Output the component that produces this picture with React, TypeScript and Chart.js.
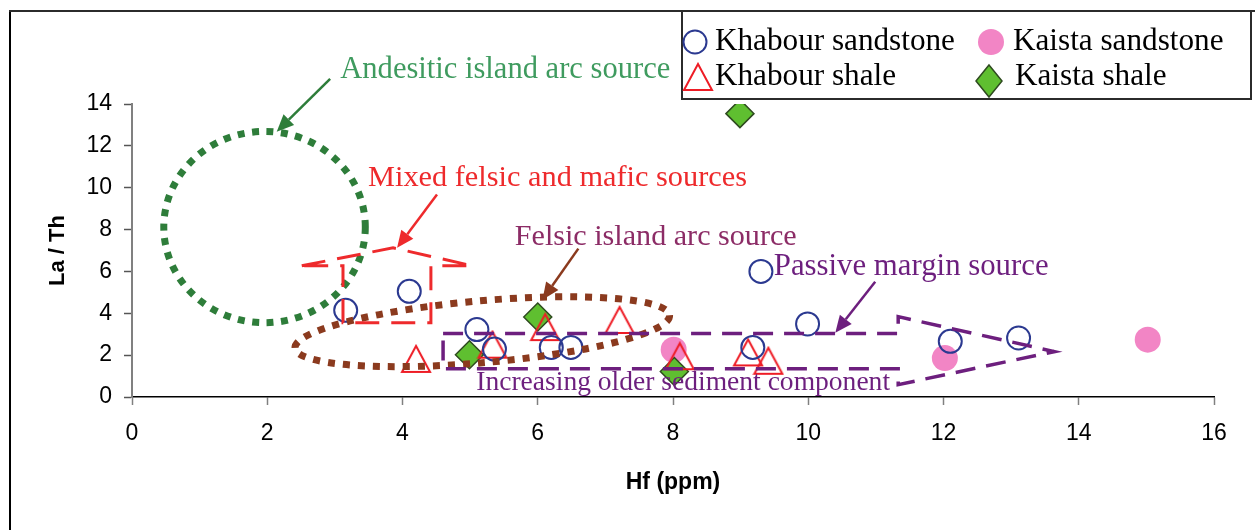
import React, { useEffect, useRef } from 'react';
import { Chart, registerables } from 'chart.js';

Chart.register(...registerables);

// ---------------- data (Hf in ppm, La/Th ratio) ----------------
const khabourSandstoneHf = [3.16, 4.1, 5.1, 5.36, 6.2, 6.49, 9.3, 9.99, 9.18, 12.1, 13.11];
const khabourSandstoneLaTh = [4.14, 5.05, 3.22, 2.29, 2.37, 2.37, 6.0, 3.49, 2.37, 2.66, 2.82];

const khabourShaleHf = [4.2, 5.33, 6.11, 7.21, 8.1, 9.11, 9.41];
const khabourShaleLaTh = [1.82, 2.5, 3.34, 3.68, 1.95, 2.13, 1.73];

const kaistaSandstoneHf = [8.01, 12.02, 15.02];
const kaistaSandstoneLaTh = [2.26, 1.86, 2.74];

const kaistaShaleHf = [4.99, 6.0, 8.02, 8.99];
const kaistaShaleLaTh = [2.02, 3.82, 1.22, 13.54];

const xTickValues = [0, 2, 4, 6, 8, 10, 12, 14, 16];
const yTickValues = [0, 2, 4, 6, 8, 10, 12, 14];

const seriesLabels = ['Khabour sandstone', 'Khabour shale', 'Kaista shale', 'Kaista sandstone'];

// ---------------- annotation geometry (data coordinates) ----------------
const andesiticCircle = { cx: 1.96, cy: 8.12, rx: 1.49, ry: 4.57 };
const felsicEllipse = { cx: 5.18, cy: 3.12, rx: 2.78, ry: 1.48, rotDeg: -5 };
const mixedShapeX = [2.51, 3.86, 5.03, 4.42, 4.42, 3.12, 3.12];
const mixedShapeY = [6.27, 7.13, 6.27, 6.27, 3.55, 3.55, 6.27];
const passiveShapeX = [4.6, 11.33, 11.33, 13.64, 11.33, 11.33, 4.6];
const passiveShapeY = [3.03, 3.03, 3.84, 2.17, 0.59, 1.35, 1.35];

const annotationTexts = [
  { text: 'Andesitic island arc source', x: 3.08, y: 15.26, width: 330, color: '#3f9b5f' },
  { text: 'Mixed felsic and mafic sources', x: 3.49, y: 10.06, width: 379, color: '#ee2a2c' },
  { text: 'Felsic island arc source', x: 5.66, y: 7.24, width: 282, color: '#8c2c66' },
  { text: 'Passive margin source', x: 9.49, y: 5.84, width: 275, color: '#6d1f7e' },
  { text: 'Increasing older sediment component', x: 5.09, y: 0.32, width: 414, color: '#6d1f7e' },
];

const annotationArrows = [
  { x1: 2.93, y1: 15.2, x2: 2.14, y2: 12.68, color: '#2e7d3a' },
  { x1: 4.51, y1: 9.67, x2: 3.92, y2: 7.13, color: '#ee2a2c' },
  { x1: 6.6, y1: 7.09, x2: 6.07, y2: 4.65, color: '#8b3a1e' },
  { x1: 10.99, y1: 5.51, x2: 10.4, y2: 3.07, color: '#6d1f7e' },
];

const SERIF = '"Liberation Serif", "Times New Roman", serif';
const SANS = '"Liberation Sans", Arial, sans-serif';

function makeTriangle(): HTMLCanvasElement {
  const c = document.createElement('canvas');
  c.width = 32;
  c.height = 30;
  const g = c.getContext('2d')!;
  g.strokeStyle = '#ee1c25';
  g.lineWidth = 2;
  g.lineJoin = 'miter';
  g.beginPath();
  g.moveTo(16, 2);
  g.lineTo(30, 28);
  g.lineTo(2, 28);
  g.closePath();
  g.stroke();
  return c;
}

function fitFont(ctx: CanvasRenderingContext2D, text: string, width: number, family: string) {
  ctx.font = `40px ${family}`;
  const w = ctx.measureText(text).width;
  const size = (40 * width) / w;
  ctx.font = `${size.toFixed(2)}px ${family}`;
}

function drawArrow(ctx: CanvasRenderingContext2D, x1: number, y1: number, x2: number, y2: number, color: string) {
  const ang = Math.atan2(y2 - y1, x2 - x1);
  const head = 17;
  const half = 7.5;
  const bx = x2 - Math.cos(ang) * head;
  const by = y2 - Math.sin(ang) * head;
  ctx.save();
  ctx.strokeStyle = color;
  ctx.fillStyle = color;
  ctx.lineWidth = 2.5;
  ctx.setLineDash([]);
  ctx.beginPath();
  ctx.moveTo(x1, y1);
  ctx.lineTo(bx, by);
  ctx.stroke();
  ctx.beginPath();
  ctx.moveTo(x2, y2);
  ctx.lineTo(bx + Math.sin(ang) * half, by - Math.cos(ang) * half);
  ctx.lineTo(bx - Math.sin(ang) * half, by + Math.cos(ang) * half);
  ctx.closePath();
  ctx.fill();
  ctx.restore();
}

const framePlugin = {
  id: 'frame',
  beforeDraw(chart: any) {
    const { ctx, width, height } = chart;
    ctx.save();
    ctx.fillStyle = '#ffffff';
    ctx.fillRect(0, 0, width, height);
    ctx.strokeStyle = '#000000';
    ctx.lineWidth = 2;
    ctx.beginPath();
    ctx.moveTo(10, 10);
    ctx.lineTo(10, height);
    ctx.stroke();
    ctx.strokeStyle = '#2b2b2b';
    ctx.beginPath();
    ctx.moveTo(9, 11);
    ctx.lineTo(width, 11);
    ctx.stroke();
    ctx.restore();
  },
};

const annotationPlugin = {
  id: 'annotations',
  afterDatasetsDraw(chart: any) {
    const { ctx } = chart;
    const xs = chart.scales.x;
    const ys = chart.scales.y;
    const px = (v: number) => xs.getPixelForValue(v);
    const py = (v: number) => ys.getPixelForValue(v);
    ctx.save();

    // green dotted circle
    ctx.strokeStyle = '#2e7d3a';
    ctx.lineWidth = 7;
    ctx.setLineDash([7, 7.5]);
    ctx.beginPath();
    ctx.ellipse(
      px(andesiticCircle.cx), py(andesiticCircle.cy),
      px(andesiticCircle.cx + andesiticCircle.rx) - px(andesiticCircle.cx),
      py(andesiticCircle.cy) - py(andesiticCircle.cy + andesiticCircle.ry),
      0, 0, Math.PI * 2);
    ctx.stroke();

    // brown dotted ellipse
    ctx.strokeStyle = '#8b3a1e';
    ctx.setLineDash([7, 8]);
    ctx.beginPath();
    ctx.ellipse(
      px(felsicEllipse.cx), py(felsicEllipse.cy),
      px(felsicEllipse.cx + felsicEllipse.rx) - px(felsicEllipse.cx),
      py(felsicEllipse.cy) - py(felsicEllipse.cy + felsicEllipse.ry),
      (felsicEllipse.rotDeg * Math.PI) / 180, 0, Math.PI * 2);
    ctx.stroke();

    // red dashed up-arrow shape
    ctx.strokeStyle = '#ee2a2c';
    ctx.lineWidth = 3;
    ctx.setLineDash([24, 12]);
    ctx.beginPath();
    mixedShapeX.forEach((xv, i) => {
      const X = px(xv), Y = py(mixedShapeY[i]);
      if (i === 0) ctx.moveTo(X, Y); else ctx.lineTo(X, Y);
    });
    ctx.closePath();
    ctx.stroke();

    // purple dashed big arrow
    ctx.strokeStyle = '#6d1f7e';
    ctx.lineWidth = 3.5;
    ctx.setLineDash([20, 11]);
    ctx.beginPath();
    passiveShapeX.forEach((xv, i) => {
      const X = px(xv), Y = py(passiveShapeY[i]);
      if (i === 0) ctx.moveTo(X, Y); else ctx.lineTo(X, Y);
    });
    ctx.closePath();
    ctx.stroke();

    ctx.setLineDash([]);
    annotationArrows.forEach((a) => drawArrow(ctx, px(a.x1), py(a.y1), px(a.x2), py(a.y2), a.color));

    ctx.textBaseline = 'alphabetic';
    ctx.textAlign = 'left';
    annotationTexts.forEach((t) => {
      fitFont(ctx, t.text, t.width, SERIF);
      ctx.fillStyle = t.color;
      ctx.fillText(t.text, px(t.x), py(t.y));
    });
    ctx.restore();
  },
};

const legendEntries = [
  { index: 0, mx: 695, my: 42, tx: 715, ty: 50 },
  { index: 3, mx: 991, my: 42, tx: 1013, ty: 50 },
  { index: 1, mx: 698, my: 77, tx: 715, ty: 85 },
  { index: 2, mx: 989, my: 81, tx: 1015, ty: 85 },
];

const legendPlugin = {
  id: 'boxLegend',
  afterDraw(chart: any) {
    const { ctx } = chart;
    const ds = chart.data.datasets;
    ctx.save();
    ctx.fillStyle = '#ffffff';
    ctx.fillRect(682, 11, 569, 88);
    ctx.strokeStyle = '#2b2b2b';
    ctx.lineWidth = 2;
    ctx.strokeRect(682, 11, 569, 88);
    fitFont(ctx, ds[0].label, 240, SERIF);
    const font = ctx.font;
    legendEntries.forEach((e) => {
      const d = ds[e.index];
      const st = d.pointStyle;
      const r = d.pointRadius;
      if (st instanceof HTMLCanvasElement) {
        ctx.drawImage(st, e.mx - st.width / 2, e.my - st.height / 2);
      } else if (st === 'circle') {
        ctx.beginPath();
        ctx.arc(e.mx, e.my, r, 0, Math.PI * 2);
        if (d.backgroundColor && d.backgroundColor !== 'rgba(0,0,0,0)') {
          ctx.fillStyle = d.backgroundColor;
          ctx.fill();
        }
        if (d.borderWidth) {
          ctx.lineWidth = d.borderWidth;
          ctx.strokeStyle = d.borderColor;
          ctx.stroke();
        }
      } else if (st === 'rectRot') {
        ctx.beginPath();
        ctx.moveTo(e.mx, e.my - r - 2);
        ctx.lineTo(e.mx + r - 1, e.my);
        ctx.lineTo(e.mx, e.my + r + 2);
        ctx.lineTo(e.mx - r + 1, e.my);
        ctx.closePath();
        ctx.fillStyle = d.backgroundColor;
        ctx.fill();
        ctx.lineWidth = d.borderWidth;
        ctx.strokeStyle = d.borderColor;
        ctx.stroke();
      }
      ctx.font = font;
      ctx.fillStyle = '#000000';
      ctx.textBaseline = 'alphabetic';
      ctx.textAlign = 'left';
      ctx.fillText(d.label, e.tx, e.ty);
    });
    ctx.restore();
  },
};

const zip = (xs: number[], ys: number[]) => xs.map((x, i) => ({ x, y: ys[i] }));

export default function App() {
  const ref = useRef<HTMLCanvasElement | null>(null);

  useEffect(() => {
    if (!ref.current) return;
    const triangle = makeTriangle();
    const chart = new Chart(ref.current, {
      type: 'scatter',
      data: {
        datasets: [
          {
            label: seriesLabels[0],
            data: zip(khabourSandstoneHf, khabourSandstoneLaTh),
            pointStyle: 'circle',
            pointRadius: 11.5,
            borderWidth: 2,
            borderColor: '#2b3990',
            backgroundColor: 'rgba(0,0,0,0)',
          },
          {
            label: seriesLabels[1],
            data: zip(khabourShaleHf, khabourShaleLaTh),
            pointStyle: triangle,
            pointRadius: 14,
            borderWidth: 0,
            borderColor: '#ee1c25',
            backgroundColor: 'rgba(0,0,0,0)',
          },
          {
            label: seriesLabels[2],
            data: zip(kaistaShaleHf, kaistaShaleLaTh),
            pointStyle: 'rectRot',
            pointRadius: 14,
            borderWidth: 1.5,
            borderColor: '#2e4a1f',
            backgroundColor: '#5fbf30',
          },
          {
            label: seriesLabels[3],
            data: zip(kaistaSandstoneHf, kaistaSandstoneLaTh),
            pointStyle: 'circle',
            pointRadius: 13,
            borderWidth: 0,
            borderColor: '#f285c5',
            backgroundColor: '#f285c5',
          },
        ] as any,
      },
      options: {
        animation: false,
        responsive: false,
        devicePixelRatio: 1,
        events: [],
        layout: { padding: { left: 0, right: 41, top: 104, bottom: 0 } },
        plugins: { legend: { display: false }, tooltip: { enabled: false } },
        scales: {
          x: {
            type: 'linear',
            min: 0,
            max: 16,
            afterBuildTicks: (s: any) => { s.ticks = xTickValues.map((v) => ({ value: v })); },
            afterFit: (s: any) => { s.height = 133; },
            ticks: { font: { family: SANS, size: 23 }, color: '#000', padding: 15, maxRotation: 0, autoSkip: false },
            grid: { drawOnChartArea: false, drawTicks: true, tickLength: 8, tickColor: '#808080', tickWidth: 1.5 },
            border: { display: true, color: '#000', width: 1.5 },
            title: {
              display: true,
              text: 'Hf (ppm)',
              color: '#000',
              font: { family: SANS, size: 23, weight: 'bold' },
              padding: { top: 0, bottom: 34 },
            },
          },
          y: {
            type: 'linear',
            min: 0,
            max: 14,
            afterBuildTicks: (s: any) => { s.ticks = yTickValues.map((v) => ({ value: v })); },
            afterFit: (s: any) => { s.width = 132; },
            ticks: { font: { family: SANS, size: 23 }, color: '#000', padding: 12, autoSkip: false },
            grid: { drawOnChartArea: false, drawTicks: true, tickLength: 8, tickColor: '#555', tickWidth: 1.5 },
            border: { display: true, color: '#808080', width: 2 },
            title: {
              display: true,
              text: 'La / Th',
              color: '#000',
              font: { family: SANS, size: 22, weight: 'bold' },
              padding: { top: 45, bottom: 0 },
            },
          },
        },
      } as any,
      plugins: [framePlugin, annotationPlugin, legendPlugin],
    });
    return () => chart.destroy();
  }, []);

  return (
    <div style={{ position: 'absolute', left: 0, top: 0, width: 1255, height: 530, background: '#fff' }}>
      <canvas ref={ref} width={1255} height={530} style={{ display: 'block', width: 1255, height: 530 }} />
    </div>
  );
}
